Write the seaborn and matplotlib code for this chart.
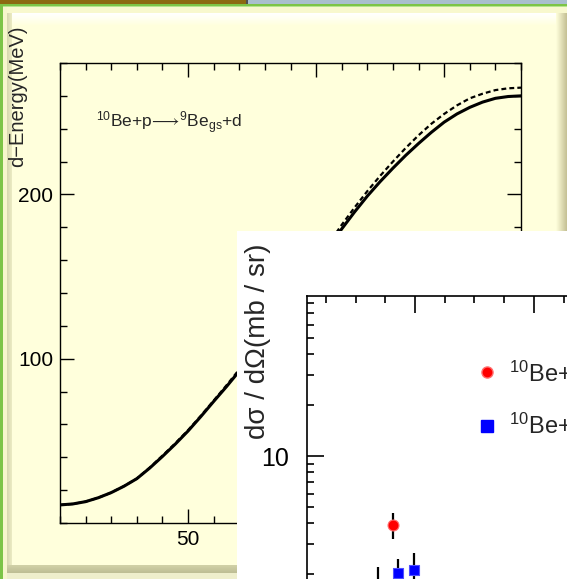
import numpy as np
import matplotlib
matplotlib.use("Agg")
import matplotlib.pyplot as plt
import seaborn as sns
from matplotlib.ticker import FixedLocator, MultipleLocator, NullFormatter, LogLocator, FuncFormatter
from matplotlib.lines import Line2D
from matplotlib.patches import Rectangle

# ---------------- data ----------------
angle_deg = [0, 5, 10, 15, 20, 25, 30, 35, 40, 45, 50, 55, 60, 65, 70, 75, 80, 85, 90,
             95, 100, 105, 110, 115, 120, 125, 130, 135, 140, 145, 150, 155, 160, 165, 170, 175, 180]
energy_solid = [11, 11.6, 13, 15.4, 18.5, 22.4, 27, 33.4, 40.5, 48, 56, 64.8, 74, 83, 92.5, 103,
                113.5, 124.2, 135, 146, 157, 168.2, 179, 189.3, 199, 207.8, 216, 223.8, 231, 237.8,
                244, 249, 253, 256.2, 258.5, 259.6, 260]
energy_dashed = [11, 11.6, 13, 15.4, 18.5, 22.5, 27, 33.7, 41, 48.5, 56.5, 65.3, 74.5, 83.8, 93.5,
                 104, 114.5, 125.5, 136.5, 147.8, 159, 170.3, 181.5, 192, 202, 211.3, 220, 228.3,
                 236, 243, 249, 254.2, 258.5, 261.3, 263.5, 264.6, 265]

x1_ticks = [50, 100, 150]
y1_ticks = [100, 200]
y2_ticks = [10]

red_angle = [8.15]
red_xs = [3.9]
red_lo = [3.23]
red_hi = [4.6]

blue_angle = [8.6, 9.9]
blue_xs = [2.03, 2.11]
blue_lo = [1.68, 1.72]
blue_hi = [2.46, 2.67]

black_angle = [6.9]
black_xs = [1.5]
black_lo = [1.05]
black_hi = [2.2]

legend_labels = [r"$^{10}$Be+p$\rightarrow$$^{9}$Be$_{\rm gs}$+d",
                 r"$^{10}$Be+p$\rightarrow$$^{9}$Be$^{*}$+d"]
reaction_text = r"$^{10}$Be+p$\!\longrightarrow\!$$^{9}$Be$_{\rm gs}$+d"

# ---------------- style ----------------
sns.set_style("ticks")
plt.rcParams['font.family'] = ['Liberation Sans', 'DejaVu Sans']
plt.rcParams['mathtext.fontset'] = 'custom'
plt.rcParams['mathtext.rm'] = 'Liberation Sans'
plt.rcParams['mathtext.it'] = 'Liberation Sans:italic'
plt.rcParams['mathtext.bf'] = 'Liberation Sans:bold'
plt.rcParams['mathtext.sf'] = 'Liberation Sans'
plt.rcParams['mathtext.fallback'] = 'stixsans'

W, H = 567, 579
PANEL = '#FFFFDC'
fig = plt.figure(figsize=(W / 100, H / 100), dpi=100, facecolor=PANEL)


def px_rect(x0, y0, x1, y1):
    return [x0 / W, 1 - y1 / H, (x1 - x0) / W, (y1 - y0) / H]


# ---------------- slide background ----------------
ax_bg = fig.add_axes([0, 0, 1, 1])
ax_bg.set_zorder(0)


def rect(x0, y0, x1, y1, c):
    ax_bg.add_patch(Rectangle((x0, y0), x1 - x0, y1 - y0, color=c, lw=0))


def grad(x0, y0, x1, y1, c0, c1, vertical=True):
    a = np.array(matplotlib.colors.to_rgb(c0))
    b = np.array(matplotlib.colors.to_rgb(c1))
    t = np.linspace(0, 1, 32)
    cols = a[None, :] * (1 - t[:, None]) + b[None, :] * t[:, None]
    img = cols[:, None, :] if vertical else cols[None, :, :]
    ax_bg.imshow(img, extent=(x0, x1, y1, y0), aspect='auto', interpolation='bilinear')


rect(0, 0, 246, 4, '#8B6A12')
rect(246, 0, 248, 4, '#505050')
rect(248, 0, W, 4, '#A9BFCE')
rect(0, 4, W, 6, '#7CC447')
rect(0, 6, W, 7, '#B5E58E')
rect(0, 4, 3, H, '#7CC447')
rect(3, 7, W, 13, '#F8F8CE')
rect(3, 7, 7, H, '#F6F6CC')
grad(12, 13, 556, 26, '#FFFFFF', PANEL, vertical=True)
grad(7, 13, 12, 565, '#D6D6AE', '#ECECC4', vertical=False)
grad(7, 565, W, 573, '#D2D2A8', '#BDBD94', vertical=True)
rect(7, 573, W, H, '#EEEECC')
grad(556, 13, W, 565, PANEL, '#C4C094', vertical=False)
ax_bg.set_xlim(0, W)
ax_bg.set_ylim(H, 0)
ax_bg.axis('off')

# ---------------- plot 1: deuteron energy ----------------
ax1 = fig.add_axes(px_rect(60, 63, 521, 523))
ax1.set_zorder(1)
ax1.set_facecolor('none')
sns.lineplot(x=angle_deg, y=energy_dashed, ax=ax1, color='black', lw=1.6,
             linestyle=(0, (2.2, 1.4)))
sns.lineplot(x=angle_deg, y=energy_solid, ax=ax1, color='black', lw=2.2)
ax1.set_xlim(0, 180)
ax1.set_ylim(0, 280)
ax1.xaxis.set_major_locator(FixedLocator(x1_ticks))
ax1.xaxis.set_minor_locator(MultipleLocator(10))
ax1.yaxis.set_major_locator(FixedLocator(y1_ticks))
ax1.yaxis.set_minor_locator(MultipleLocator(20))
ax1.tick_params(which='both', direction='in', top=True, right=True,
                labelsize=15, pad=5, color='black', labelcolor='black')
ax1.tick_params(which='major', length=10, width=1.0)
ax1.tick_params(which='minor', length=5, width=1.0)
for s in ax1.spines.values():
    s.set_color('black')
    s.set_linewidth(1.0)
ax1.set_xlabel('')
ax1.set_ylabel('')
fig.text(96 / W, 1 - 123 / H, reaction_text, fontsize=12.5, ha='left', va='center')
fig.text(18 / W, 1 - 96 / H, "d\u2212Energy(MeV)", rotation=90, fontsize=14.5,
         ha='center', va='center')

# ---------------- plot 2: cross section ----------------
ax_w = fig.add_axes(px_rect(237, 231, 567, 579))
ax_w.set_zorder(2)
ax_w.set_facecolor('white')
ax_w.set_xticks([])
ax_w.set_yticks([])
for s in ax_w.spines.values():
    s.set_visible(False)

ax2 = fig.add_axes(px_rect(307, 296, 600, 625))
ax2.set_zorder(3)
ax2.set_facecolor('none')
ax2.set_yscale('log')

for xa, ya, lo, hi in [(black_angle, black_xs, black_lo, black_hi),
                       (red_angle, red_xs, red_lo, red_hi),
                       (blue_angle, blue_xs, blue_lo, blue_hi)]:
    ax2.errorbar(xa, ya, yerr=[np.subtract(ya, lo), np.subtract(hi, ya)],
                 fmt='none', ecolor='black', elinewidth=1.6, capsize=0, zorder=2)
sns.scatterplot(x=black_angle, y=black_xs, ax=ax2, marker='o', s=50, color='black',
                linewidth=0, zorder=4, legend=False)
sns.scatterplot(x=red_angle, y=red_xs, ax=ax2, marker='o', s=62, color='#FF0000',
                edgecolor='#FF7070', linewidth=0.8, zorder=4, legend=False)
sns.scatterplot(x=blue_angle, y=blue_xs, ax=ax2, marker='s', s=62, color='#0000FF',
                edgecolor='#5050FF', linewidth=0.8, zorder=4, legend=False)

ax2.set_xlim(0.92, 25.55)
ax2.set_ylim(1, 88.6)
ax2.xaxis.set_major_locator(MultipleLocator(10))
ax2.xaxis.set_minor_locator(MultipleLocator(2.5))
ax2.yaxis.set_major_locator(FixedLocator(y2_ticks))
ax2.yaxis.set_major_formatter(FuncFormatter(lambda v, p: f"{v:g}"))
ax2.yaxis.set_minor_locator(LogLocator(base=10, subs=np.arange(2, 10)))
ax2.yaxis.set_minor_formatter(NullFormatter())
ax2.tick_params(which='both', direction='in', top=True, right=True,
                labelsize=18, pad=13, color='black', labelcolor='black')
ax2.tick_params(axis='x', labelbottom=False)
ax2.tick_params(which='major', length=12, width=1.2)
ax2.tick_params(which='minor', length=5, width=1.2)
for s in ax2.spines.values():
    s.set_color('black')
    s.set_linewidth(1.2)
ax2.set_xlabel('')
ax2.set_ylabel('')

handles = [Line2D([], [], marker='o', ls='none', color='#FF0000', markeredgecolor='#FF7070', ms=8),
           Line2D([], [], marker='s', ls='none', color='#0000FF', ms=8)]
ax2.legend(handles, legend_labels, loc='upper left',
           bbox_to_anchor=(475 / W, 1 - 358 / H), bbox_transform=fig.transFigure,
           frameon=False, fontsize=17, handlelength=1.0, handletextpad=0.44,
           labelspacing=0.9, borderpad=0, borderaxespad=0)

fig.text(258 / W, 1 - 341 / H, "d\u03c3 / d\u03a9(mb / sr)", rotation=90, fontsize=20,
         ha='center', va='center', zorder=10)

fig.savefig("out.png", dpi=100, facecolor=fig.get_facecolor())
